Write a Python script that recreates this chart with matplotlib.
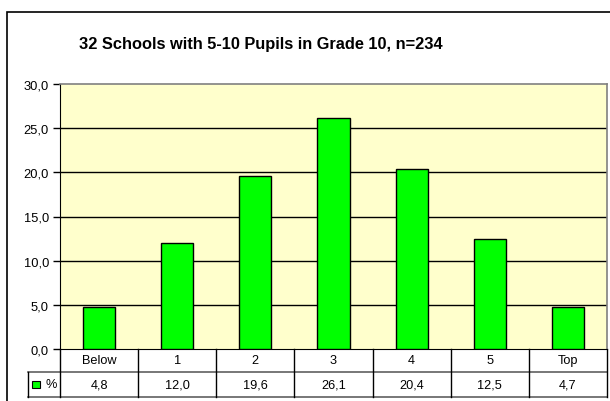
import matplotlib
matplotlib.use("Agg")
import matplotlib.pyplot as plt
from matplotlib.patches import Rectangle
from matplotlib.transforms import blended_transform_factory

categories = ["Below", "1", "2", "3", "4", "5", "Top"]
values = [4.8, 12.0, 19.6, 26.1, 20.4, 12.5, 4.7]
series_name = "%"
title = "32 Schools with 5-10 Pupils in Grade 10, n=234"
yticks = [0, 5, 10, 15, 20, 25, 30]

plt.rcParams['font.family'] = ['Liberation Sans', 'DejaVu Sans']

W, H = 610, 402
fig = plt.figure(figsize=(W / 100, H / 100), dpi=100)
fig.patch.set_facecolor("white")

# chart border
fig.patches.append(Rectangle((7 / W, -0.1), 1.2, (H - 13) / H + 0.1, transform=fig.transFigure,
                             fill=False, edgecolor="black", linewidth=1.2, zorder=0))

L, R, T, B = 60, 607, 85, 350
ax = fig.add_axes([L / W, (H - B) / H, (R - L) / W, (B - T) / H])
ax.set_facecolor("#FFFFCC")
x = list(range(len(categories)))
ax.bar(x, values, width=0.41, color="#00FF00", edgecolor="black", linewidth=1.0, zorder=3)
ax.set_xlim(-0.5, len(categories) - 0.5)
ax.set_ylim(0, 30)
ax.set_yticks(yticks)
ax.set_yticklabels([f"{v:.1f}".replace(".", ",") for v in yticks], fontsize=9.3)
ax.tick_params(axis="y", length=5, width=1, pad=3, direction="out")
ax.set_xticks([])
for v in yticks[1:-1]:
    ax.axhline(v, color="black", linewidth=1.0, zorder=1)
for s in ["top", "right"]:
    ax.spines[s].set_color("#808080")
    ax.spines[s].set_linewidth(1.2)
ax.spines["left"].set_color("black")
ax.spines["bottom"].set_color("black")

fig.text(261 / W, 1 - 45 / H, title, ha="center", va="center", fontsize=11.8, fontweight="bold")

# data table
tr = blended_transform_factory(ax.transData, ax.transAxes)
h = B - T
r1 = -23 / h
r2 = -47.5 / h
left_key = -0.5 - 32 / ((R - L) / len(categories))
n = len(categories)
# horizontal lines
ax.plot([left_key, n - 0.5], [r1, r1], transform=tr, color="#606060", lw=1.2, clip_on=False)
ax.plot([left_key, n - 0.5], [r2, r2], transform=tr, color="#606060", lw=1.2, clip_on=False)
# vertical lines
for i in range(n + 1):
    xb = i - 0.5
    ax.plot([xb, xb], [0, r2], transform=tr, color="black", lw=1.0, clip_on=False)
ax.plot([left_key, left_key], [r1, r2], transform=tr, color="black", lw=1.0, clip_on=False)
for i, (c, v) in enumerate(zip(categories, values)):
    ax.text(i, r1 / 2, c, transform=tr, ha="center", va="center", fontsize=9.2)
    ax.text(i, (r1 + r2) / 2, f"{v:.1f}".replace(".", ","), transform=tr, ha="center", va="center", fontsize=9.2)
# legend key
unit = (R - L) / n
kx = left_key + 4 / unit
ax.add_patch(Rectangle((kx, (r1 + r2) / 2 - 3.5 / h), 8 / unit, 7 / h, transform=tr,
                       facecolor="#00FF00", edgecolor="black", lw=0.8, clip_on=False))
ax.text(kx + 13 / unit, (r1 + r2) / 2, series_name, transform=tr, ha="left", va="center", fontsize=9.2)

fig.savefig("out.png", dpi=100)
